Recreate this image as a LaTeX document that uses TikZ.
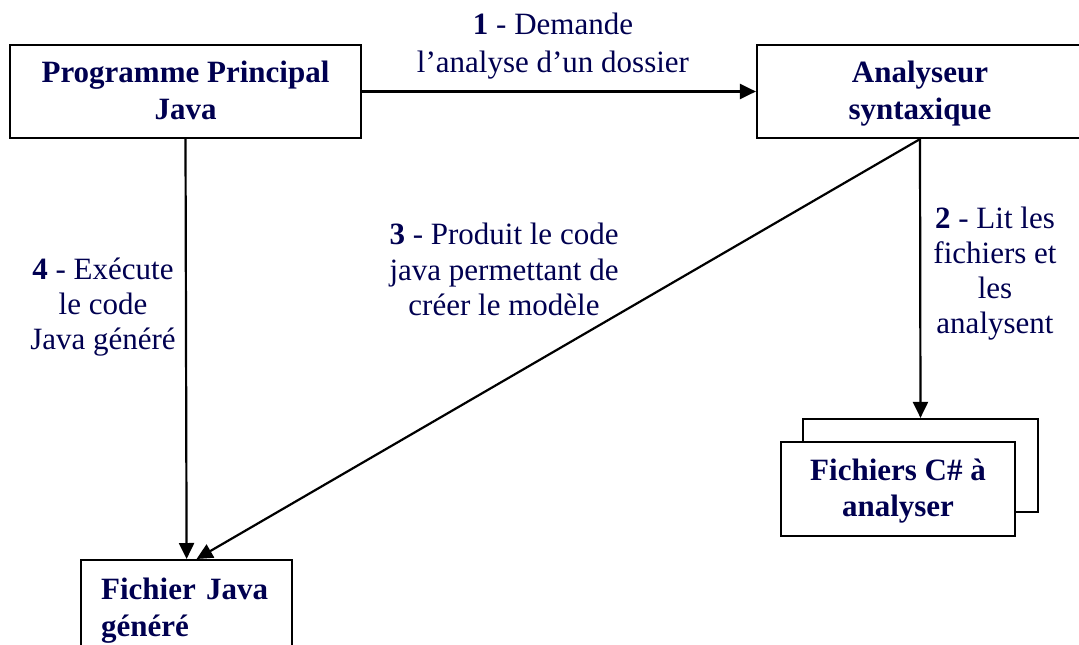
\documentclass[tikz,border=0pt]{standalone}
\usepackage{fontspec}
\setmainfont{Liberation Serif}
\usetikzlibrary{arrows.meta}
\definecolor{ink}{RGB}{0,0,80}
% fixed line height and depth so that every box sets its lines alike
\newcommand\linestrut{\rule[-8pt]{0pt}{35pt}}
\begin{document}
\begin{tikzpicture}[x=1pt,y=-1pt,
  box/.style={draw=black,line width=2.2pt,fill=white,inner sep=0pt,text=ink,
    font=\fontsize{31}{36.5}\selectfont\bfseries,align=center},
  lbl/.style={text=ink,font=\fontsize{31}{35}\selectfont,align=center,inner sep=0pt,anchor=north},
  arr/.style={line width=2.2pt,-{Triangle[length=16pt,width=15pt]}}]
\useasboundingbox (0,0) rectangle (1079,645);
\clip (0,0) rectangle (1079,645);

% boxes
\node[box,minimum width=351pt,minimum height=93pt] (main) at (185.5,91.5)
  {\linestrut Programme Principal\\\linestrut Java};
\node[box,minimum width=326pt,minimum height=93pt] (parser) at (920,91.5)
  {\linestrut Analyseur\\\linestrut syntaxique};
\node[box,minimum width=235pt,minimum height=93pt] (csback) at (920.5,465.5) {};
\node[box,minimum width=234pt,minimum height=94pt] (csfront) at (898,489)
  {\linestrut Fichiers C\# à\\\linestrut analyser};
\node[box,anchor=north west,text width=171pt,align=left,inner xsep=20pt,inner ysep=18pt] (gen) at (80,559)
  {Fichier Java\\généré};

% connectors
\draw[arr] (main) -- (parser);
\draw[arr] (parser.south) -- (csback.north);
\draw[arr] (parser.south) -- ([xshift=10pt]gen.north);
\draw[arr] (main.south) -- (gen.north);

% labels
\node[lbl,font=\fontsize{31}{38}\selectfont] (l1) at (553,13) {\textbf{1} - Demande\\l’analyse d’un dossier};
\node[lbl] (l2) at (995,207) {\textbf{2} - Lit les\\fichiers et\\les\\analysent};
\node[lbl,font=\fontsize{31}{35.5}\selectfont] (l3) at (504,223) {\textbf{3} - Produit le code\\java permettant de\\créer le modèle};
\node[lbl,font=\fontsize{31}{35}\selectfont] (l4) at (103,258) {\textbf{4} - Exécute\\le code\\Java généré};
\end{tikzpicture}
\end{document}
